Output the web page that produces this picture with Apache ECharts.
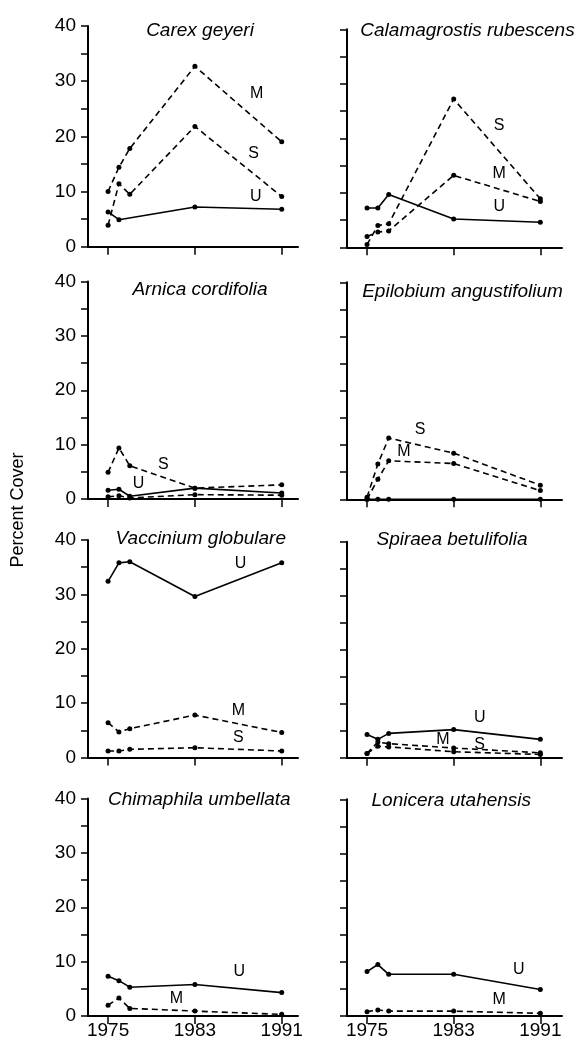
<!DOCTYPE html>
<html>
<head>
<meta charset="utf-8">
<script src="https://cdn.jsdelivr.net/npm/echarts@6.0.0/dist/echarts.min.js"></script>
<style>
  html, body { margin: 0; padding: 0; background: #fff; }
  #chart { width: 580px; height: 1044px; }
</style>
</head>
<body>
<div id="chart"></div>
<script>
// sampling years (x) and the years that get a tick / label
const years = [1975, 1976, 1977, 1983, 1991];
const xTickYears = [1975, 1983, 1991];

const titles = [
  'Carex geyeri', 'Calamagrostis rubescens',
  'Arnica cordifolia', 'Epilobium angustifolium',
  'Vaccinium globulare', 'Spiraea betulifolia',
  'Chimaphila umbellata', 'Lonicera utahensis'
];

// percent cover, one value per year (null = not plotted)
const carexU = [6.3, 4.9, null, 7.2, 6.8];
const carexM = [10.0, 14.4, 17.8, 32.7, 19.0];
const carexS = [3.9, 11.4, 9.5, 21.8, 9.1];

const calamU = [7.2, 7.2, 9.7, 5.2, 4.6];
const calamM = [2.0, 2.8, 3.0, 13.2, 8.4];
const calamS = [0.5, 4.0, 4.3, 27.2, 8.9];

const arnicaU = [1.6, 1.8, 0.5, 2.0, 1.1];
const arnicaM = [0.4, 0.6, 0.2, 0.8, 0.7];
const arnicaS = [4.9, 9.4, 6.1, 2.0, 2.6];

const epilU = [0, 0, 0, 0, 0];
const epilM = [0, 3.7, 7.1, 6.6, 1.6];
const epilS = [0.4, 6.5, 11.3, 8.5, 2.6];

const vaccU = [32.4, 35.8, 36.0, 29.6, 35.8];
const vaccM = [6.4, 4.7, 5.3, 7.8, 4.6];
const vaccS = [1.2, 1.2, 1.5, 1.8, 1.2];

const spirU = [4.3, 3.4, 4.5, 5.2, 3.4];
const spirM = [0.8, 2.9, 2.6, 1.8, 0.9];
const spirS = [0.8, 2.1, 2.0, 1.1, 0.6];

const chimU = [7.3, 6.5, 5.3, 5.8, 4.3];
const chimM = [2.0, 3.3, 1.4, 0.9, 0.3];

const loniU = [8.2, 9.5, 7.7, 7.7, 4.9];
const loniM = [0.8, 1.1, 0.9, 0.9, 0.5];

// line labels: [text, year, percent]
const carexLabels = [['M', 1988.7, 27.7], ['S', 1988.4, 16.8], ['U', 1988.6, 9.1]];
const calamLabels = [['S', 1987.2, 22.3], ['M', 1987.2, 13.6], ['U', 1987.2, 7.5]];
const arnicaLabels = [['S', 1980.1, 6.3], ['U', 1977.8, 2.8]];
const epilLabels = [['S', 1979.9, 12.9], ['M', 1978.4, 8.8]];
const vaccLabels = [['U', 1987.2, 35.7], ['M', 1987.0, 8.6], ['S', 1987.0, 3.7]];
const spirLabels = [['U', 1985.4, 7.5], ['M', 1982.0, 3.4], ['S', 1985.4, 2.5]];
const chimLabels = [['U', 1987.1, 8.2], ['M', 1981.3, 3.2]];
const loniLabels = [['U', 1989.0, 8.5], ['M', 1987.2, 3.0]];

const panels = [
  { lines: { U: carexU, M: carexM, S: carexS }, labels: carexLabels },
  { lines: { U: calamU, M: calamM, S: calamS }, labels: calamLabels },
  { lines: { U: arnicaU, M: arnicaM, S: arnicaS }, labels: arnicaLabels },
  { lines: { U: epilU, M: epilM, S: epilS }, labels: epilLabels },
  { lines: { U: vaccU, M: vaccM, S: vaccS }, labels: vaccLabels },
  { lines: { U: spirU, M: spirM, S: spirS }, labels: spirLabels },
  { lines: { U: chimU, M: chimM }, labels: chimLabels },
  { lines: { U: loniU, M: loniM }, labels: loniLabels }
];

// layout
const FONT = '"Liberation Sans", Arial, Helvetica, sans-serif';
const colLeft = [88, 347];
const colWidth = [210, 215];
const xMin = 1973.15;
const xMax = [1992.5, 1993.0];
const rowTop = [[26, 29.3], [281.5, 282.3], [540, 541.7], [798.5, 799.3]];
const rowBottom = [[246.7, 247.3], [499, 499.3], [757.5, 757.7], [1016, 1016]];
const titleMid = [[200, 30.6], [467.5, 30.6], [200, 290], [462.5, 291.6],
  [200.8, 538.3], [452, 540], [199.3, 799.3], [451.3, 800.6]];

const chart = echarts.init(document.getElementById('chart'));

const grid = [], xAxis = [], yAxis = [], title = [], series = [];

panels.forEach((p, i) => {
  const r = Math.floor(i / 2), c = i % 2;
  grid.push({
    left: colLeft[c], top: rowTop[r][c], width: colWidth[c],
    height: rowBottom[r][c] - rowTop[r][c], outerBoundsMode: 'none'
  });
  xAxis.push({
    type: 'value', gridIndex: i, min: xMin, max: xMax[c],
    axisLine: { show: true, onZero: false, lineStyle: { color: '#000', width: 2 } },
    axisTick: { show: true, customValues: xTickYears, length: 8, lineStyle: { color: '#000', width: 1.5 } },
    axisLabel: {
      show: r === 3, customValues: xTickYears, margin: 5,
      color: '#000', fontSize: 19, fontFamily: FONT,
      formatter: v => String(v)
    },
    splitLine: { show: false }
  });
  yAxis.push({
    type: 'value', gridIndex: i, min: 0, max: 40, interval: 5,
    axisLine: { show: true, lineStyle: { color: '#000', width: 2 } },
    axisTick: { show: true, length: 7, lineStyle: { color: '#000', width: 1.5 } },
    axisLabel: {
      show: c === 0, margin: 12, color: '#000', fontSize: 19, fontFamily: FONT,
      formatter: v => (v % 10 === 0 ? String(v) : '')
    },
    splitLine: { show: false }
  });
  title.push({
    text: titles[i], left: titleMid[i][0], top: titleMid[i][1],
    textAlign: 'center', textVerticalAlign: 'middle', padding: 0,
    textStyle: { fontStyle: 'italic', fontWeight: 'normal', fontSize: 19, fontFamily: FONT, color: '#000' }
  });

  Object.keys(p.lines).forEach(key => {
    const vals = p.lines[key];
    const data = [];
    years.forEach((y, k) => { if (vals[k] !== null) data.push([y, vals[k]]); });
    series.push({
      type: 'line', name: titles[i] + ' ' + key,
      xAxisIndex: i, yAxisIndex: i, data,
      symbol: 'circle', symbolSize: 5, showSymbol: true, showAllSymbol: true,
      itemStyle: { color: '#000' },
      lineStyle: { color: '#000', width: 1.6, type: key === 'U' ? 'solid' : [6, 4] },
      silent: true
    });
  });

  series.push({
    type: 'scatter', xAxisIndex: i, yAxisIndex: i, symbolSize: 0, silent: true,
    itemStyle: { color: '#000', opacity: 1 },
    data: p.labels.map(l => [l[1], l[2], l[0]]),
    label: {
      show: true, position: 'inside', formatter: q => q.value[2],
      color: '#000', fontSize: 16, fontFamily: FONT
    }
  });
});

chart.setOption({
  backgroundColor: '#fff',
  animation: false,
  title,
  grid,
  xAxis,
  yAxis,
  series,
  graphic: [{
    type: 'text', x: 18, y: 510, rotation: Math.PI / 2,
    style: {
      text: 'Percent Cover', fill: '#000', font: '18px ' + FONT,
      textAlign: 'center', textVerticalAlign: 'middle'
    }
  }]
});
</script>
</body>
</html>
